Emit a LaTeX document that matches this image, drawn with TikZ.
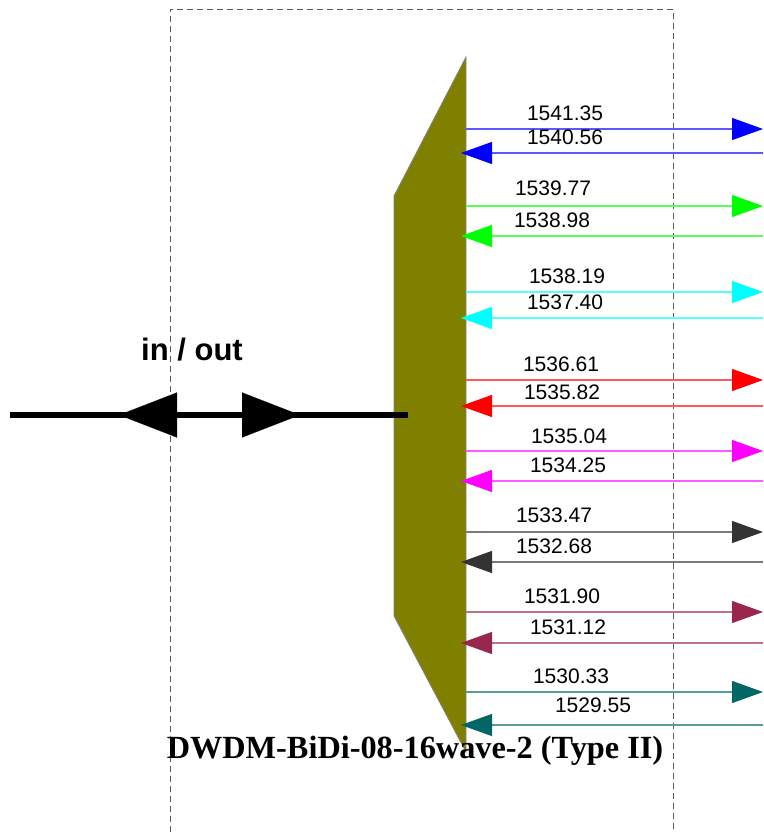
\documentclass[tikz,border=0pt]{standalone}
\usepackage{fontspec}
\setmainfont{Liberation Serif}
\newfontfamily\arialfont{Liberation Sans}
\usetikzlibrary{arrows.meta,positioning}

\definecolor{chblue}{RGB}{0,0,255}
\definecolor{chgreen}{RGB}{0,255,0}
\definecolor{chcyan}{RGB}{0,255,255}
\definecolor{chred}{RGB}{255,0,0}
\definecolor{chmagenta}{RGB}{255,0,255}
\definecolor{chdark}{RGB}{51,51,51}
\definecolor{chmaroon}{RGB}{153,38,77}
\definecolor{chteal}{RGB}{0,102,102}
\definecolor{muxbody}{RGB}{128,128,0}

\begin{document}
\begin{tikzpicture}[
			x = 1pt, y = -1pt,
			every node/.style = {inner sep=0pt, font=\arialfont\fontsize{21}{21}\selectfont},
			frame/.style = {gray!70!black, line width=0.9pt, dash pattern=on 6pt off 4pt},
			wline/.style = {line width=1.2pt},
			bigtip/.style = {line width=0.1pt, -{Triangle[length=58pt,width=45pt]}}
		]

		\useasboundingbox (0,0) rectangle (763,832);

		% dashed housing
		\draw[frame] (170,832) -- (170,9) -- (673,9) -- (673,832);

		% mux body
		\filldraw[fill=muxbody, draw=gray, line width=0.8pt]
			(466,57) coordinate (mt) -- (466,752) coordinate (mb) -- (394,616) -- (394,196) -- cycle;

		% common port
		\coordinate (cl) at (10,415);
		\coordinate (cr) at (408,415);
		\coordinate (hl) at (178,415);
		\coordinate (tl) at (119,415);
		\coordinate (hr) at (241,415);
		\coordinate (tr) at (300,415);
		\draw[line width=6pt] (cl) -- (cr);
		\draw[bigtip] (hl) -- (tl);
		\draw[bigtip] (hr) -- (tr);
		\node[anchor=base, font=\arialfont\bfseries\fontsize{31}{31}\selectfont] (io) at (192,360) {in / out};

		% channels
		\foreach \col/\yo/\xo/\ylo/\wo/\yi/\xi/\yli/\wi [count=\k] in {
				chblue/129/565/113/1541.35/153/565/137/1540.56,
				chgreen/206/553/188/1539.77/236/552/220/1538.98,
				chcyan/292/567/276/1538.19/318/565/302/1537.40,
				chred/380/561/364/1536.61/406/562/392/1535.82,
				chmagenta/451/569/436/1535.04/481/568/465/1534.25,
				chdark/532/554/515/1533.47/562/554/546/1532.68,
				chmaroon/612/562/596/1531.90/643/568/627/1531.12,
				chteal/692/571/676/1530.33/725/593/705/1529.55}
		{
			\coordinate (o\k) at (466,\yo);
			\coordinate (oe\k) at (763,\yo);
			\coordinate (i\k) at (461,\yi);
			\coordinate (ie\k) at (763,\yi);
			\draw[wline, \col!65, -{Triangle[length=31pt,width=22pt,color=\col]}] (o\k) -- (oe\k);
			\draw[wline, \col!65, -{Triangle[length=31pt,width=22pt,color=\col]}] (ie\k) -- (i\k);
			\node (wo\k) at (\xo,\ylo) {\wo};
			\node (wi\k) at (\xi,\yli) {\wi};
		}

		\node[anchor=base, font=\bfseries\fontsize{32.3}{32.3}\selectfont] (title) at (415,758) {DWDM-BiDi-08-16wave-2 (Type II)};

		\end{tikzpicture}
\end{document}
